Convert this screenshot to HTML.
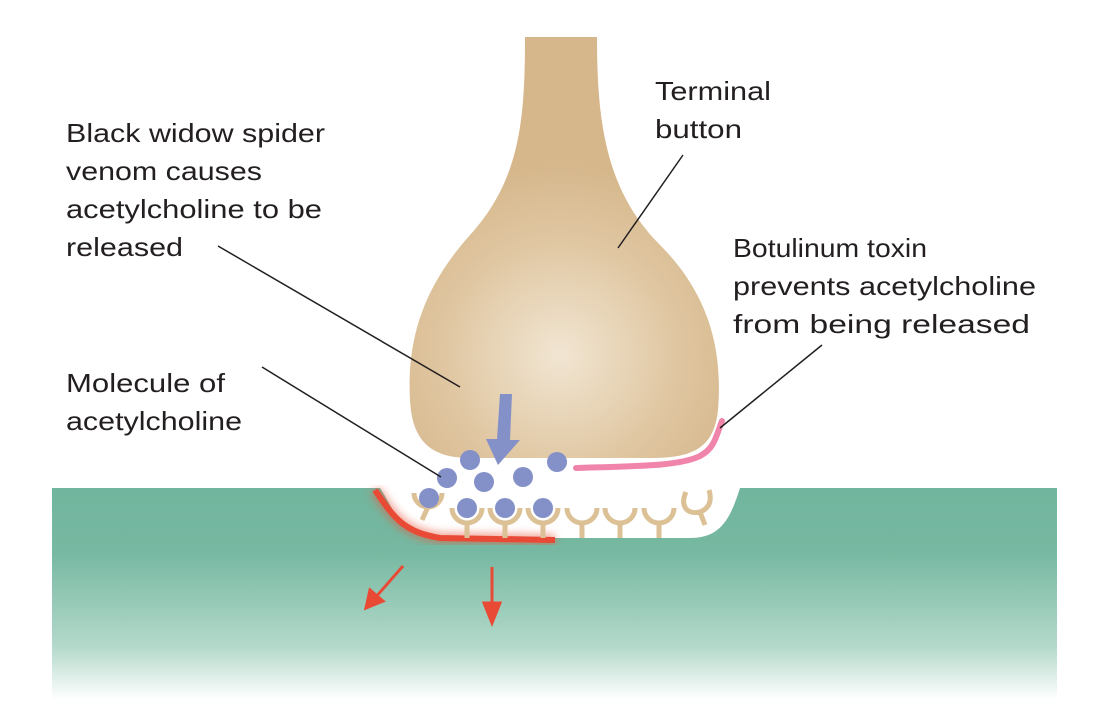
<!DOCTYPE html>
<html><head><meta charset="utf-8"><style>
body{margin:0;background:#fff;}
svg{display:block}
text{font-family:"Liberation Sans",sans-serif;font-size:26px;fill:#231f20;}
</style></head><body>
<svg width="1098" height="710" viewBox="0 0 1098 710">
<defs>
<linearGradient id="g" x1="0" y1="0" x2="0" y2="1">
<stop offset="0" stop-color="#72b59e"/><stop offset="0.3" stop-color="#76b8a1"/>
<stop offset="0.75" stop-color="#b4d9cb"/><stop offset="1" stop-color="#ffffff"/>
</linearGradient>
<radialGradient id="b" cx="560" cy="355" r="190" gradientUnits="userSpaceOnUse">
<stop offset="0" stop-color="#f1e5d2"/><stop offset="0.6" stop-color="#e0c7a2"/><stop offset="1" stop-color="#d6b78c"/>
</radialGradient>
<filter id="blur"><feGaussianBlur stdDeviation="4"/></filter>
</defs>
<rect x="52" y="488" width="1005" height="212" fill="url(#g)"/>
<path d="M365 488 L740 488 C730 520 720 538 690 538 L440 538 C400 538 395 510 380 488 Z" fill="#fff"/>
<path d="M525 37 L597 37 C597 120 605 190 660 245 C715 300 722 360 718 410 C714 450 690 458 650 458 L470 458 C430 458 412 440 410 400 C406 330 430 280 470 235 C520 180 525 120 525 37 Z" fill="url(#b)"/>
<path d="M375 490 C395 520 405 532 440 538 L555 540" stroke="#e8593e" stroke-width="12" fill="none" filter="url(#blur)" opacity="0.5"/>
<path d="M375 490 C395 520 405 532 440 538 L555 540" stroke="#e84a35" stroke-width="6" fill="none"/>
<g stroke="#dcc196" stroke-width="5" fill="none">
<path d="M414 493 A14 14 0 0 0 442 493 M428 507 L422 520"/>
<path d="M452 508 A15 15 0 0 0 482 508 M467 523 L467 538"/>
<path d="M490 508 A15 15 0 0 0 520 508 M505 523 L505 538"/>
<path d="M528 508 A15 15 0 0 0 558 508 M543 523 L543 538"/>
<path d="M567 508 A15 15 0 0 0 597 508 M582 523 L582 538"/>
<path d="M605 508 A15 15 0 0 0 635 508 M620 523 L620 538"/>
<path d="M644 508 A15 15 0 0 0 674 508 M659 523 L659 538"/>
<path d="M686 492 C680 505 686 515 700 512 C710 508 712 500 709 490 M700 512 L705 525"/>
</g>
<g fill="#8490c8">
<circle cx="470" cy="460" r="10"/><circle cx="447" cy="478" r="10"/><circle cx="484" cy="482" r="10"/>
<circle cx="523" cy="477" r="10"/><circle cx="557" cy="462" r="10"/><circle cx="429" cy="498" r="10"/>
<circle cx="467" cy="508" r="10"/><circle cx="505" cy="508" r="10"/><circle cx="543" cy="508" r="10"/>
</g>
<path d="M500 394 L512 394 L510 440 L520 440 L498 465 L486 439 L497 439 Z" fill="#8490c8"/>
<path d="M576 468 C640 466 680 466 700 456 C715 448 716 436 722 421" stroke="#f084ab" stroke-width="6" fill="none" stroke-linecap="round"/>
<g stroke="#e84a35" stroke-width="3" fill="#e84a35">
<line x1="403" y1="566" x2="375" y2="598"/><path d="M366 608 L370 590 L383 601 Z"/>
<line x1="492" y1="567" x2="492" y2="610"/><path d="M492 623 L484 603 L500 603 Z"/>
</g>
<g stroke="#231f20" stroke-width="1.5">
<line x1="218" y1="246" x2="460" y2="387"/>
<line x1="262" y1="367" x2="441" y2="477"/>
<line x1="683" y1="155" x2="618" y2="248"/>
<line x1="822" y1="345" x2="720" y2="428"/>
</g>
<text x="66" y="142" textLength="259" lengthAdjust="spacingAndGlyphs">Black widow spider</text>
<text x="66" y="180" textLength="196" lengthAdjust="spacingAndGlyphs">venom causes</text>
<text x="66" y="218" textLength="256" lengthAdjust="spacingAndGlyphs">acetylcholine to be</text>
<text x="66" y="256" textLength="117" lengthAdjust="spacingAndGlyphs">released</text>
<text x="655" y="100" textLength="116" lengthAdjust="spacingAndGlyphs">Terminal</text>
<text x="655" y="138" textLength="87" lengthAdjust="spacingAndGlyphs">button</text>
<text x="733" y="257" textLength="194" lengthAdjust="spacingAndGlyphs">Botulinum toxin</text>
<text x="733" y="295" textLength="303" lengthAdjust="spacingAndGlyphs">prevents acetylcholine</text>
<text x="733" y="333" textLength="297" lengthAdjust="spacingAndGlyphs">from being released</text>
<text x="66" y="392" textLength="159" lengthAdjust="spacingAndGlyphs">Molecule of</text>
<text x="66" y="430" textLength="176" lengthAdjust="spacingAndGlyphs">acetylcholine</text>
</svg>
</body></html>
